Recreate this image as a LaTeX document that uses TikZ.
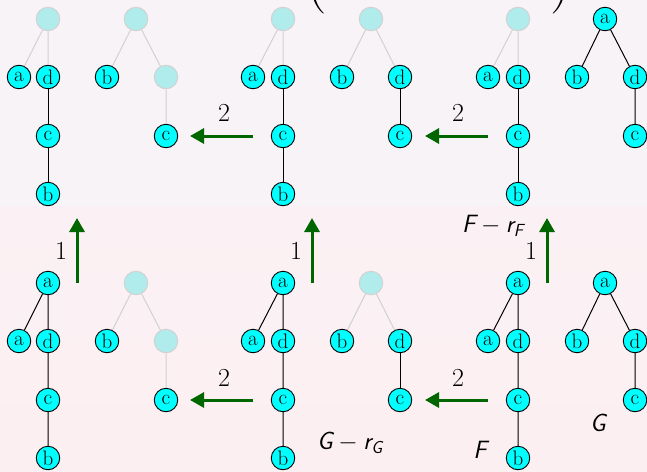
\documentclass[tikz,border=0pt]{standalone}
\usepackage{fontspec}
\usetikzlibrary{arrows.meta}
\definecolor{nodecyan}{RGB}{0,255,255}
\definecolor{ghostfill}{RGB}{176,236,236}
\definecolor{ghostline}{RGB}{210,210,210}
\definecolor{arrgreen}{RGB}{0,102,0}
\definecolor{bgtop}{RGB}{247,243,247}
\definecolor{bgmid}{RGB}{251,241,244}
\definecolor{bgbot}{RGB}{252,239,241}
\tikzset{
  nd/.style={circle, draw=black, fill=nodecyan, line width=0.9pt, minimum size=23.5pt, inner sep=0pt, font=\fontsize{21}{21}\selectfont},
  gh/.style={circle, draw=ghostline, fill=ghostfill, line width=1pt, minimum size=23.5pt, inner sep=0pt},
  ed/.style={draw=black, line width=1pt},
  ge/.style={draw=ghostline, line width=1pt},
  arr/.style={draw=arrgreen, line width=3pt, -{Triangle[length=14pt, width=15pt]}},
  num/.style={inner sep=0pt, font=\fontsize{26}{26}\selectfont},
  lab/.style={inner sep=0pt, font=\fontsize{25}{25}\selectfont\sffamily\itshape},
  par/.style={inner sep=0pt, anchor=south, font=\fontsize{58}{58}\selectfont}
}
\begin{document}
\begin{tikzpicture}[x=1pt, y=-1pt]
\fill[bgtop] (0,0) rectangle (647,206);
\shade[top color=bgmid, bottom color=bgbot] (0,206) rectangle (647,471);
\useasboundingbox (0,0) rectangle (647,471);

% parentheses (cut off at the top, as in the reference)
\node[par] (lp) at (317,14) {(};
\node[par] (rp) at (561,14) {)};

% ---------- top row ----------
% tree A1
\node[gh] (A1r) at (48,19) {};
\node[nd] (A1a) at (19,77) {a};
\node[nd] (A1d) at (48,77) {d};
\node[nd] (A1c) at (48,136) {c};
\node[nd] (A1b) at (48,194) {b};
\draw[ge] (A1r) -- (A1a) (A1r) -- (A1d);
\draw[ed] (A1d) -- (A1c) -- (A1b);
% tree A2
\node[gh] (A2r) at (136,19) {};
\node[nd] (A2b) at (107,77) {b};
\node[gh] (A2g) at (166,77) {};
\node[nd] (A2c) at (166,136) {c};
\draw[ge] (A2r) -- (A2b) (A2r) -- (A2g) (A2g) -- (A2c);
% tree A3
\node[gh] (A3r) at (283,19) {};
\node[nd] (A3a) at (253,77) {a};
\node[nd] (A3d) at (283,77) {d};
\node[nd] (A3c) at (283,136) {c};
\node[nd] (A3b) at (283,194) {b};
\draw[ge] (A3r) -- (A3a) (A3r) -- (A3d);
\draw[ed] (A3d) -- (A3c) -- (A3b);
% tree A4
\node[gh] (A4r) at (371,19) {};
\node[nd] (A4b) at (342,77) {b};
\node[nd] (A4d) at (400,77) {d};
\node[nd] (A4c) at (400,136) {c};
\draw[ge] (A4r) -- (A4b) (A4r) -- (A4d);
\draw[ed] (A4d) -- (A4c);
% tree A5
\node[gh] (A5r) at (518,19) {};
\node[nd] (A5a) at (488,77) {a};
\node[nd] (A5d) at (518,77) {d};
\node[nd] (A5c) at (518,136) {c};
\node[nd] (A5b) at (518,194) {b};
\draw[ge] (A5r) -- (A5a) (A5r) -- (A5d);
\draw[ed] (A5d) -- (A5c) -- (A5b);
% tree A6
\node[nd] (A6r) at (605,19) {a};
\node[nd] (A6b) at (577,77) {b};
\node[nd] (A6d) at (635,77) {d};
\node[nd] (A6c) at (635,136) {c};
\draw[ed] (A6r) -- (A6b) (A6r) -- (A6d) (A6d) -- (A6c);

% ---------- bottom row ----------
% tree B1
\node[nd] (B1r) at (48,283) {a};
\node[nd] (B1a) at (19,341) {a};
\node[nd] (B1d) at (48,341) {d};
\node[nd] (B1c) at (48,400) {c};
\node[nd] (B1b) at (48,458) {b};
\draw[ed] (B1r) -- (B1a) (B1r) -- (B1d) (B1d) -- (B1c) -- (B1b);
% tree B2
\node[gh] (B2r) at (136,283) {};
\node[nd] (B2b) at (107,341) {b};
\node[gh] (B2g) at (166,341) {};
\node[nd] (B2c) at (166,400) {c};
\draw[ge] (B2r) -- (B2b) (B2r) -- (B2g) (B2g) -- (B2c);
% tree B3
\node[nd] (B3r) at (283,283) {a};
\node[nd] (B3a) at (253,341) {a};
\node[nd] (B3d) at (283,341) {d};
\node[nd] (B3c) at (283,400) {c};
\node[nd] (B3b) at (283,458) {b};
\draw[ed] (B3r) -- (B3a) (B3r) -- (B3d) (B3d) -- (B3c) -- (B3b);
% tree B4
\node[gh] (B4r) at (371,283) {};
\node[nd] (B4b) at (342,341) {b};
\node[nd] (B4d) at (400,341) {d};
\node[nd] (B4c) at (400,400) {c};
\draw[ge] (B4r) -- (B4b) (B4r) -- (B4d);
\draw[ed] (B4d) -- (B4c);
% tree B5
\node[nd] (B5r) at (518,283) {a};
\node[nd] (B5a) at (488,341) {a};
\node[nd] (B5d) at (518,341) {d};
\node[nd] (B5c) at (518,400) {c};
\node[nd] (B5b) at (518,458) {b};
\draw[ed] (B5r) -- (B5a) (B5r) -- (B5d) (B5d) -- (B5c) -- (B5b);
% tree B6
\node[nd] (B6r) at (605,283) {a};
\node[nd] (B6b) at (577,341) {b};
\node[nd] (B6d) at (635,341) {d};
\node[nd] (B6c) at (635,400) {c};
\draw[ed] (B6r) -- (B6b) (B6r) -- (B6d) (B6d) -- (B6c);

% ---------- arrows ----------
\coordinate (h1s) at (253,136); \coordinate (h1e) at (190,136);
\coordinate (h2s) at (488,136); \coordinate (h2e) at (425,136);
\coordinate (h3s) at (253,400); \coordinate (h3e) at (190,400);
\coordinate (h4s) at (488,400); \coordinate (h4e) at (425,400);
\coordinate (u1s) at (77,283);  \coordinate (u1e) at (77,218);
\coordinate (u2s) at (312,283); \coordinate (u2e) at (312,218);
\coordinate (u3s) at (547,283); \coordinate (u3e) at (547,218);
\draw[arr] (h1s) -- (h1e);
\draw[arr] (h2s) -- (h2e);
\draw[arr] (h3s) -- (h3e);
\draw[arr] (h4s) -- (h4e);
\draw[arr] (u1s) -- (u1e);
\draw[arr] (u2s) -- (u2e);
\draw[arr] (u3s) -- (u3e);

\node[num] (n2a) at (224,113) {2};
\node[num] (n2b) at (458,113) {2};
\node[num] (n2c) at (224,378) {2};
\node[num] (n2d) at (458,378) {2};
\node[num] (n1a) at (61,251) {1};
\node[num] (n1b) at (296,251) {1};
\node[num] (n1c) at (531,251) {1};

% ---------- labels ----------
\node[lab] (lF) at (493,226) {F\:$-$\:r\textsubscript{F}};
\node[lab] (lG) at (350,443) {G\:$-$\:r\textsubscript{G}};
\node[lab] (lF2) at (480,450) {F};
\node[lab] (lG2) at (598,423) {G};
\end{tikzpicture}
\end{document}
